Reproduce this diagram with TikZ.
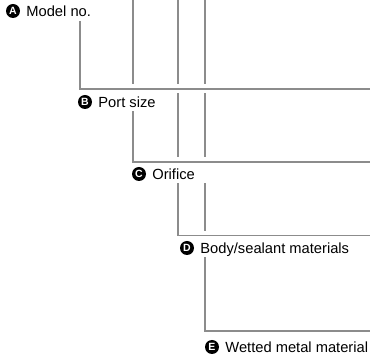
\documentclass[tikz,border=0pt]{standalone}
\usepackage{fontspec}
\setmainfont{Liberation Sans}
\usepackage{tikz}
\usetikzlibrary{positioning}
\tikzset{
  lead/.style={draw=black!45,line width=1.2pt,preaction={draw=white,line width=9pt}},
  badge/.style={circle,fill=black,text=white,minimum size=14pt,inner sep=0pt,font=\fontsize{10.5}{10.5}\selectfont\bfseries},
  optlabel/.style={fill=white,inner xsep=2pt,inner ysep=2.5pt,text height=12pt,text depth=1.6pt,
    font=\fontsize{14.7}{17}\selectfont,right=4pt of #1}
}
\begin{document}
\begin{tikzpicture}[x=1pt,y=1pt]
\useasboundingbox (0,0) rectangle (370,356);
\coordinate (topA) at (80,335);
\coordinate (topB) at (133,356);
\coordinate (topC) at (178,356);
\coordinate (topD) at (205,356);
\coordinate (endA) at (370,267);
\coordinate (endB) at (370,194);
\coordinate (endC) at (370,120.5);
\coordinate (endD) at (370,25);
\draw[lead] (topD) |- (endD);
\draw[lead] (topC) |- (endC);
\draw[lead] (topB) |- (endB);
\draw[lead] (topA) |- (endA);
\node[badge] (bA) at (13,345) {A};
\node[optlabel=bA] (tA) {Model no.};
\node[badge] (bB) at (85,254) {B};
\node[optlabel=bB] (tB) {Port size};
\node[badge] (bC) at (139,182) {C};
\node[optlabel=bC,text width=56pt] (tC) {Orifice};
\node[badge] (bD) at (187,108) {D};
\node[optlabel=bD] (tD) {Body/sealant materials};
\node[badge] (bE) at (212,9) {E};
\node[optlabel=bE] (tE) {Wetted metal material};
\end{tikzpicture}
\end{document}
